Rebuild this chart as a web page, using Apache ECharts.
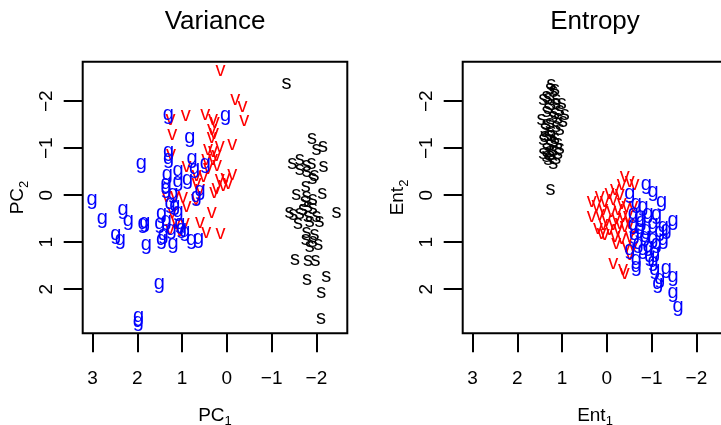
<!DOCTYPE html>
<html>
<head>
<meta charset="utf-8">
<script src="https://cdn.jsdelivr.net/npm/echarts@6/dist/echarts.min.js"></script>
<style>
  html, body { margin: 0; padding: 0; background: #fff; }
  #chart { width: 721px; height: 425px; }
</style>
</head>
<body>
<div id="chart"></div>
<script>
// Panel titles and axis names
const panelTitles = ['Variance', 'Entropy'];
const axisNames = [['PC', '1', 'PC', '2'], ['Ent', '1', 'Ent', '2']];
const speciesLetters = ['s', 'v', 'g'];
const speciesColors = ['#000000', '#ff0000', '#0000ff'];
const xTicks = [3, 2, 1, 0, -1, -2];
const yTicks = [-2, -1, 0, 1, 2];

// Variance panel: first two principal components
const varianceS = [[-1.33,-2.38],[-1.90,-1.21],[-2.15,-1.03],[-2.00,-0.98],[-1.46,-0.68],[-1.63,-0.75],
  [-1.78,-0.64],[-1.89,-0.67],[-2.16,-0.60],[-1.63,-0.54],[-1.79,-0.50],[-1.96,-0.41],[-1.91,-0.36],
  [-1.76,-0.18],[-1.55,-0.01],[-1.78,0.03],[-2.13,-0.04],[-1.74,0.14],[-1.92,0.10],[-1.81,0.24],
  [-1.70,0.31],[-1.92,0.28],[-1.40,0.37],[-1.48,0.42],[-1.63,0.38],[-1.81,0.45],[-2.00,0.45],
  [-2.45,0.37],[-1.59,0.60],[-1.85,0.56],[-2.07,0.56],[-1.78,0.80],[-1.96,0.84],[-1.76,0.95],
  [-1.92,0.99],[-2.04,1.06],[-1.85,1.09],[-1.52,1.37],[-1.81,1.39],[-1.98,1.39],[-1.79,1.80],
  [-2.22,1.73],[-2.11,2.08],[-2.10,2.62]];
const varianceV = [[0.14,-2.65],[-0.19,-2.03],[-0.35,-1.89],[-0.39,-1.59],[0.92,-1.69],[0.48,-1.72],
  [0.31,-1.60],[0.27,-1.55],[0.33,-1.39],[0.29,-1.32],[0.34,-1.23],[1.26,-1.60],[1.22,-1.30],
  [-0.12,-1.07],[0.16,-1.03],[0.42,-0.98],[0.31,-0.93],[0.23,-0.84],[1.25,-0.86],[0.46,-0.75],
  [0.31,-0.75],[0.90,-0.61],[0.22,-0.64],[0.42,-0.57],[-0.12,-0.45],[0.03,-0.36],[0.16,-0.33],
  [-0.03,-0.25],[0.52,-0.40],[0.68,-0.41],[0.08,-0.20],[0.23,-0.15],[0.68,-0.25],[0.60,-0.11],
  [0.28,-0.06],[1.35,0.03],[1.16,0.03],[0.98,0.06],[0.69,0.09],[0.90,0.24],[1.22,0.37],[0.34,0.37],
  [1.13,0.60],[0.94,0.60],[0.60,0.58],[0.46,0.80],[0.14,0.81],[1.05,0.75],[1.27,0.74]];
const varianceG = [[1.31,-1.71],[0.03,-1.69],[0.83,-1.23],[1.91,-0.68],[1.30,-0.93],[1.30,-0.79],
  [0.78,-0.79],[0.48,-0.67],[0.72,-0.57],[1.09,-0.52],[1.33,-0.43],[0.88,-0.33],[1.09,-0.29],
  [1.36,-0.25],[1.36,-0.15],[1.20,-0.04],[0.60,-0.09],[0.68,0.03],[3.01,0.10],[2.32,0.31],
  [2.20,0.53],[2.78,0.49],[2.48,0.84],[2.38,0.94],[1.87,0.60],[1.83,0.58],[1.80,1.06],[1.46,0.38],
  [1.27,0.17],[1.16,0.21],[1.09,0.35],[1.50,0.60],[1.35,0.53],[1.24,0.74],[1.42,0.84],[1.46,0.95],
  [1.20,1.02],[1.01,0.70],[0.94,0.77],[0.79,0.95],[0.63,0.92],[1.51,1.87],[1.97,2.58],[1.98,2.69],
  [1.05,0.60]];

// Entropy panel: first two entropy components
const entropyS = [[1.24,-2.35],[1.27,-2.28],[1.20,-2.21],[1.35,-2.10],[1.13,-2.03],[1.01,-1.96],
  [1.42,-2.03],[1.24,-1.92],[1.05,-1.81],[0.94,-1.71],[1.35,-1.78],[1.20,-1.67],[1.46,-1.60],
  [0.98,-1.57],[1.27,-1.53],[1.13,-1.46],[1.39,-1.42],[1.24,-1.35],[1.05,-1.39],[1.31,-1.28],
  [1.16,-1.21],[1.42,-1.18],[1.09,-1.11],[1.27,-1.07],[1.35,-1.00],[1.20,-0.96],[1.05,-1.00],
  [1.42,-0.89],[1.24,-0.86],[1.13,-0.79],[1.31,-0.75],[1.20,-0.68],[1.16,-2.24],[1.31,-1.85],
  [1.09,-1.64],[1.39,-1.25],[1.20,-1.14],[1.27,-0.93],[1.13,-1.96],[1.35,-1.50],[1.31,-2.06],
  [1.16,-1.74],[1.24,-1.28],[1.35,-0.82],[1.09,-0.89],[1.26,-0.11]];
const entropyV = [[-0.40,-0.40],[-0.51,-0.29],[-0.62,-0.22],[-0.33,-0.22],[-0.18,-0.11],[-0.06,-0.04],
  [-0.29,-0.01],[0.16,0.03],[0.34,0.14],[0.23,0.21],[0.05,0.14],[-0.14,0.10],[-0.33,0.17],
  [-0.44,0.24],[-0.25,0.31],[0.08,0.31],[-0.10,0.35],[0.16,0.42],[0.34,0.45],[0.01,0.53],
  [-0.21,0.49],[-0.36,0.45],[-0.14,0.63],[0.08,0.63],[0.20,0.70],[-0.06,0.74],[-0.25,0.74],
  [-0.40,0.67],[0.05,0.84],[-0.18,0.88],[-0.33,0.92],[-0.51,0.88],[-0.44,1.09],[-0.51,1.27],
  [-0.14,1.45],[-0.36,1.59],[-0.40,1.66],[-0.59,1.09],[-0.51,0.60],[-0.29,0.60],[0.12,0.81],
  [-0.47,0.45],[-0.59,0.24],[-0.59,0.74],[-0.21,1.02]];
const entropyG = [[-0.88,-0.22],[-1.03,-0.08],[-1.22,0.14],[-0.51,-0.04],[-0.66,0.17],[-0.81,0.24],
  [-0.59,0.38],[-0.73,0.45],[-0.92,0.38],[-1.11,0.42],[-1.48,0.53],[-1.26,0.67],[-1.03,0.60],
  [-0.59,0.63],[-0.73,0.70],[-0.88,0.74],[-1.18,0.77],[-1.33,0.74],[-0.62,0.84],[-0.85,0.88],
  [-1.03,0.92],[-0.70,1.02],[-0.92,1.09],[-1.11,1.02],[-0.51,1.16],[-0.81,1.16],[-1.07,1.23],
  [-0.66,1.37],[-1.03,1.41],[-0.66,1.52],[-1.07,1.59],[-1.33,1.55],[-1.18,1.77],[-1.48,1.73],
  [-1.14,1.87],[-1.48,2.08],[-1.59,2.37],[-0.96,1.30],[-0.77,0.56],[-1.26,0.95]];

const panels = [[varianceS, varianceV, varianceG], [entropyS, entropyV, entropyG]];

const FONT = "'Liberation Sans', Arial, Helvetica, sans-serif";
const gridLefts = [82.7, 462.7];
const gridTop = 61.7, gridW = 264.6, gridH = 271.6;
const xRange = [-2.69, 3.22];
const yRange = [-2.84, 2.94];

const minusFmt = v => (v < 0 ? '\u2212' + Math.abs(v) : String(v));
// main text hugs the top of the line, the index sits lower as a subscript
const nameRich = {
  a: { fontSize: 19, fontFamily: FONT, color: '#000', lineHeight: 19, verticalAlign: 'top' },
  s: { fontSize: 13, fontFamily: FONT, color: '#000', lineHeight: 22, verticalAlign: 'bottom' }
};

const option = {
  animation: false,
  backgroundColor: '#fff',
  title: panelTitles.map((t, i) => ({
    text: t,
    left: gridLefts[i] + gridW / 2,
    top: 9,
    padding: 0,
    textAlign: 'center',
    textStyle: { fontSize: 26, fontWeight: 'normal', fontFamily: FONT, color: '#000' }
  })),
  // fixed plot boxes; the right one runs past the canvas edge
  grid: gridLefts.map(l => ({
    left: l, top: gridTop, width: gridW, height: gridH,
    outerBoundsMode: 'none', containLabel: false,
    show: true, borderColor: '#000', borderWidth: 2, backgroundColor: 'transparent'
  })),
  xAxis: gridLefts.map((l, i) => ({
    type: 'value', gridIndex: i, inverse: true, position: 'bottom',
    min: xRange[0], max: xRange[1],
    name: '{a|' + axisNames[i][0] + '}{s|' + axisNames[i][1] + '}',
    nameLocation: 'middle', nameGap: 73,
    nameTextStyle: { rich: nameRich },
    axisLine: { show: false, onZero: false },
    splitLine: { show: false },
    axisTick: { show: true, length: 19, lineStyle: { color: '#000', width: 2 }, customValues: xTicks },
    axisLabel: { customValues: xTicks, formatter: minusFmt, fontSize: 19, fontFamily: FONT, color: '#000', margin: 36 }
  })),
  yAxis: gridLefts.map((l, i) => ({
    type: 'value', gridIndex: i, inverse: true, position: 'left',
    min: yRange[0], max: yRange[1],
    name: '{a|' + axisNames[i][2] + '}{s|' + axisNames[i][3] + '}',
    nameLocation: 'middle', nameGap: 52,
    nameTextStyle: { rich: nameRich },
    axisLine: { show: false, onZero: false },
    splitLine: { show: false },
    axisTick: { show: true, length: 19, lineStyle: { color: '#000', width: 2 }, customValues: yTicks },
    axisLabel: { customValues: yTicks, formatter: minusFmt, rotate: 90, fontSize: 19, fontFamily: FONT, color: '#000', margin: 26 }
  })),
  series: []
};

panels.forEach((groups, p) => {
  groups.forEach((pts, k) => {
    option.series.push({
      type: 'scatter',
      xAxisIndex: p, yAxisIndex: p,
      data: pts,
      symbol: 'circle',
      symbolSize: 1,
      itemStyle: { color: 'rgba(0,0,0,0)', opacity: 1 },
      silent: true,
      label: {
        show: true, position: 'inside', formatter: speciesLetters[k],
        color: speciesColors[k], opacity: 1, fontSize: 20, fontFamily: FONT
      },
      emphasis: { disabled: true }
    });
  });
});

const chart = echarts.init(document.getElementById('chart'), null, { renderer: 'canvas' });
chart.setOption(option);
</script>
</body>
</html>
